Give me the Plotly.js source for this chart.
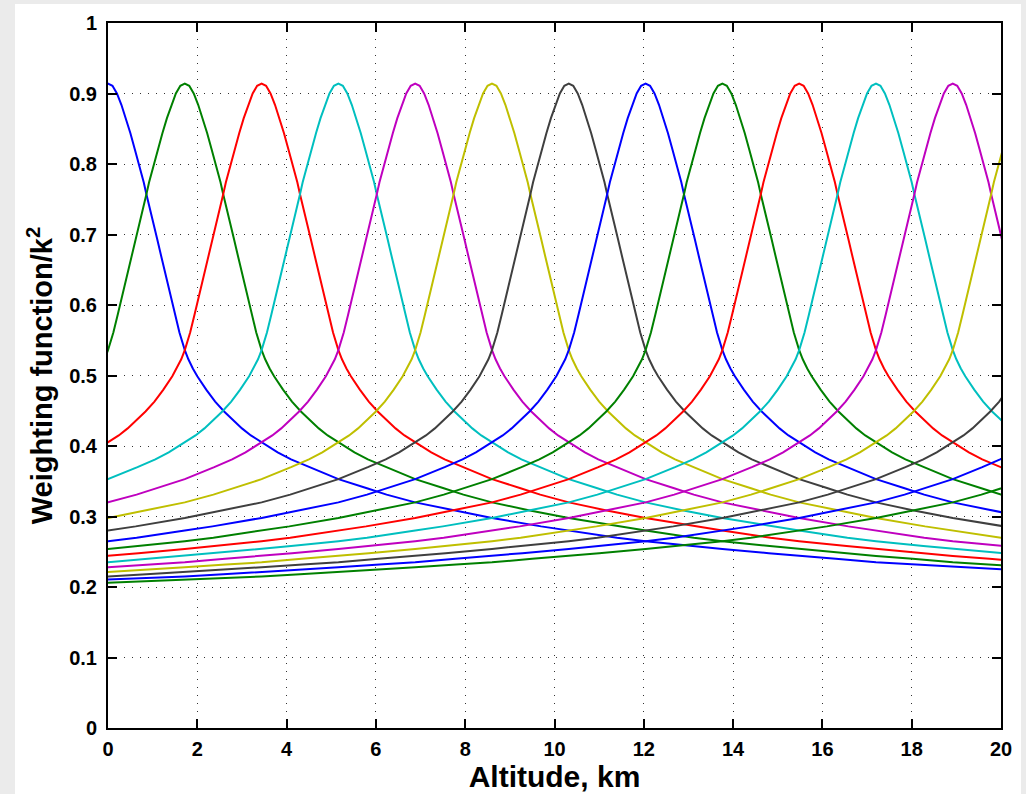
<!DOCTYPE html>
<html>
<head>
<meta charset="utf-8">
<script src="https://cdn.plot.ly/plotly-3.0.1.min.js"></script>
<style>
  html, body { margin: 0; padding: 0; background: #ebebeb; }
  #chart { width: 1026px; height: 794px; }
</style>
</head>
<body>
<div id="chart"></div>
<script>
// Peak altitudes (km) of the 16 weighting functions
const peakAltitudeKm = [0, 1.72, 3.44, 5.16, 6.88, 8.6, 10.32, 12.04, 13.76, 15.48, 17.2, 18.92, 20.64, 22.36, 24.08, 25.8];

// Shape shared by every curve: distance from the peak (km) -> weighting function / k^2
const profileDistKm = [0, 0.1, 0.2, 0.3, 0.4, 0.5, 0.6, 0.7, 0.8, 0.86, 0.9, 1.0, 1.1, 1.2, 1.3, 1.4, 1.5, 1.6, 1.72,
  1.8, 1.9, 2.0, 2.2, 2.4, 2.6, 2.8, 3.0, 3.2, 3.44, 3.8, 4.1, 4.5, 5.16, 5.8, 6.24, 6.88, 7.7, 8.6, 9.7, 10.32,
  11.4, 12.04, 13.1, 13.76, 14.8, 15.48, 16.3, 17.2, 18.0, 18.92, 19.8, 20.64, 21.5, 22.36, 23.2, 24.08, 25.0, 25.8];
const profileValue = [0.914, 0.911, 0.900, 0.884, 0.865, 0.844, 0.821, 0.798, 0.774, 0.757, 0.747, 0.721, 0.694, 0.667, 0.640, 0.613, 0.587, 0.561, 0.536,
  0.523, 0.510, 0.499, 0.480, 0.463, 0.449, 0.437, 0.425, 0.415, 0.405, 0.391, 0.381, 0.370, 0.353, 0.340, 0.331, 0.320, 0.309, 0.298, 0.286, 0.280,
  0.270, 0.265, 0.258, 0.254, 0.248, 0.244, 0.240, 0.235, 0.232, 0.228, 0.225, 0.221, 0.218, 0.215, 0.212, 0.210, 0.208, 0.206];

const curveColors = ['#0000ff', '#008000', '#ff0000', '#00bfbf', '#bf00bf', '#bfbf00', '#3f3f3f'];

const xTickVals = [0, 2, 4, 6, 8, 10, 12, 14, 16, 18, 20];
const yTickVals = [0, 0.1, 0.2, 0.3, 0.4, 0.5, 0.6, 0.7, 0.8, 0.9, 1];
const yTickText = ['0', '0.1', '0.2', '0.3', '0.4', '0.5', '0.6', '0.7', '0.8', '0.9', '1'];

const traces = peakAltitudeKm.map((c, i) => {
  const xs = [], ys = [];
  for (let j = profileDistKm.length - 1; j > 0; j--) { xs.push(c - profileDistKm[j]); ys.push(profileValue[j]); }
  for (let j = 0; j < profileDistKm.length; j++) { xs.push(c + profileDistKm[j]); ys.push(profileValue[j]); }
  return {
    type: 'scatter', mode: 'lines', x: xs, y: ys,
    line: { color: curveColors[i % curveColors.length], width: 2 },
    hoverinfo: 'skip', showlegend: false
  };
});

const tickFont = { family: 'Liberation Sans, Arial, sans-serif', size: 20, color: '#000', weight: 'bold' };

const layout = {
  width: 1026, height: 794,
  margin: { l: 108, r: 25, t: 23, b: 66, pad: 0 },
  paper_bgcolor: '#ebebeb',
  plot_bgcolor: '#ffffff',
  showlegend: false,
  shapes: [{
    type: 'rect', xref: 'paper', yref: 'paper', layer: 'below',
    x0: -0.1041, x1: 1.0224, y0: -0.11, y1: 1.027,
    fillcolor: '#ffffff', line: { width: 0 }
  }],
  xaxis: {
    range: [0, 20], tickvals: xTickVals, ticktext: xTickVals.map(String),
    ticks: 'inside', ticklen: 9, tickwidth: 2, tickcolor: '#000',
    showline: true, linecolor: '#000', linewidth: 2, mirror: 'ticks',
    showgrid: true, gridcolor: '#333', gridwidth: 1, griddash: '1px,7px',
    zeroline: false, tickfont: tickFont, ticklabelstandoff: 2,
    title: { text: 'Altitude, km', font: { family: 'Liberation Sans, Arial, sans-serif', size: 30, color: '#000', weight: 'bold' }, standoff: 3 }
  },
  yaxis: {
    range: [0, 1], tickvals: yTickVals, ticktext: yTickText,
    ticks: 'inside', ticklen: 9, tickwidth: 2, tickcolor: '#000',
    showline: true, linecolor: '#000', linewidth: 2, mirror: 'ticks',
    showgrid: true, gridcolor: '#333', gridwidth: 1, griddash: '1px,7px',
    zeroline: false, tickfont: tickFont, ticklabelstandoff: 5,
    title: { text: 'Weighting function/k<sup>2</sup>', font: { family: 'Liberation Sans, Arial, sans-serif', size: 29, color: '#000', weight: 'bold' }, standoff: 8 }
  }
};

Plotly.newPlot('chart', traces, layout, { staticPlot: true, displayModeBar: false });
</script>
</body>
</html>
